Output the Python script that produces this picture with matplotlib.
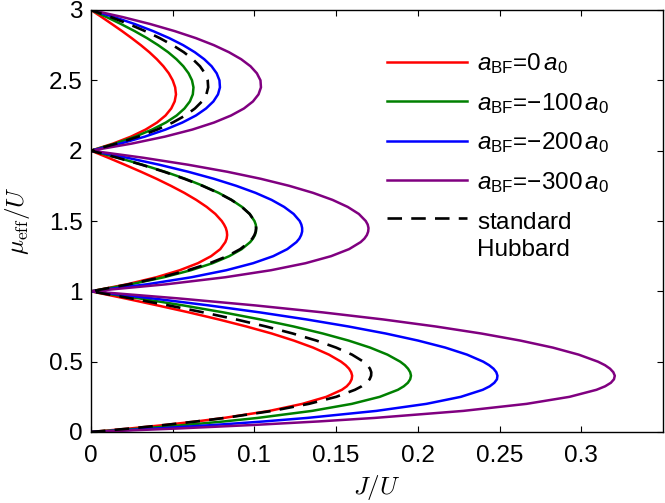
#!/usr/bin/env python3
# -*- coding: utf-8 -*-

import matplotlib
matplotlib.use("Agg")
import matplotlib.pyplot as plt

plt.rcParams['font.family'] = ['Liberation Sans', 'DejaVu Sans']
plt.rcParams['mathtext.fontset'] = 'custom'
plt.rcParams['mathtext.rm'] = 'Liberation Sans'
plt.rcParams['mathtext.it'] = 'Liberation Sans:italic'
plt.rcParams['mathtext.bf'] = 'Liberation Sans:bold'

# effective chemical potential mu_eff/U, one list per Mott lobe
mu_lobe1 = [0.0, 0.025, 0.05, 0.075, 0.1, 0.15, 0.2, 0.25, 0.3, 0.325, 0.35, 0.375, 0.4,
            0.425, 0.45, 0.475, 0.5, 0.55, 0.6, 0.65, 0.7, 0.75, 0.8, 0.85, 0.9, 0.95]
mu_lobe2 = [1.0, 1.05, 1.1, 1.15, 1.2, 1.25, 1.3, 1.35, 1.375, 1.4, 1.425, 1.45, 1.475,
            1.5, 1.55, 1.6, 1.65, 1.7, 1.75, 1.8, 1.85, 1.9, 1.95]
mu_lobe3 = [2.0, 2.05, 2.1, 2.15, 2.2, 2.25, 2.3, 2.35, 2.4, 2.45, 2.5, 2.55, 2.6, 2.65,
            2.7, 2.75, 2.8, 2.85, 2.9, 2.95, 3.0]
mu = mu_lobe1 + mu_lobe2 + mu_lobe3

# critical J/U (lobe 1, lobe 2, lobe 3)
J_a0 = [0, 0.0238, 0.0452, 0.0644, 0.0814, 0.1092, 0.1293, 0.144, 0.1535, 0.1565, 0.1584,
        0.1595, 0.1598, 0.1592, 0.1579, 0.1558, 0.153, 0.1456, 0.1359, 0.1241, 0.1106,
        0.0951, 0.0782, 0.06, 0.0407, 0.0207,
        0, 0.022, 0.04, 0.0543, 0.0654, 0.0735, 0.0791, 0.0822, 0.083, 0.0833, 0.0831,
        0.0825, 0.0814, 0.08, 0.0761, 0.0708, 0.0644, 0.0571, 0.0489, 0.0401, 0.0306,
        0.0207, 0.0105,
        0, 0.0134, 0.0245, 0.0334, 0.0404, 0.0456, 0.0491, 0.0512, 0.052, 0.0515,
        0.05, 0.0476, 0.0443, 0.0403, 0.0357, 0.0305, 0.0249, 0.019, 0.0128, 0.0065, 0]

J_a100 = [0, 0.0307, 0.0577, 0.0813, 0.1019, 0.1352, 0.1596, 0.1767, 0.1878, 0.1914, 0.1939,
          0.1953, 0.1958, 0.1953, 0.194, 0.192, 0.1892, 0.1814, 0.1708, 0.1576, 0.1419,
          0.124, 0.1037, 0.0812, 0.0564, 0.0294,
          0, 0.0243, 0.0446, 0.0611, 0.0744, 0.0846, 0.0922, 0.0974, 0.0991, 0.1003, 0.1009,
          0.1011, 0.1008, 0.1, 0.0971, 0.0924, 0.086, 0.0781, 0.0686, 0.0577, 0.0453,
          0.0315, 0.0164,
          0, 0.0147, 0.0271, 0.0374, 0.0458, 0.0524, 0.0572, 0.0605, 0.0623, 0.0627,
          0.0618, 0.0597, 0.0565, 0.0523, 0.0472, 0.0411, 0.0343, 0.0267, 0.0184, 0.0095, 0]

J_a200 = [0, 0.0401, 0.0752, 0.1057, 0.1322, 0.1746, 0.2052, 0.2263, 0.2397, 0.244, 0.2468,
          0.2484, 0.2487, 0.248, 0.2463, 0.2436, 0.24, 0.2301, 0.2168, 0.2001, 0.1804,
          0.1576, 0.132, 0.1035, 0.072, 0.0375,
          0, 0.0342, 0.0614, 0.0828, 0.0992, 0.1115, 0.1201, 0.1257, 0.1275, 0.1286, 0.1292,
          0.1292, 0.1287, 0.1277, 0.124, 0.1182, 0.1105, 0.1007, 0.0889, 0.0752, 0.0595,
          0.0418, 0.022,
          0, 0.0179, 0.033, 0.0456, 0.0559, 0.0642, 0.0704, 0.0749, 0.0777, 0.0789,
          0.0786, 0.0769, 0.0738, 0.0693, 0.0635, 0.0564, 0.0479, 0.038, 0.0268, 0.0141, 0]

J_a300 = [0, 0.0532, 0.0993, 0.1392, 0.1735, 0.2278, 0.2665, 0.2928, 0.3093, 0.3146, 0.3181,
          0.32, 0.3205, 0.3196, 0.3176, 0.3145, 0.3102, 0.2984, 0.2826, 0.2627, 0.2389,
          0.211, 0.1789, 0.1421, 0.1004, 0.0532,
          0, 0.046, 0.0821, 0.1101, 0.1313, 0.1469, 0.1579, 0.165, 0.1673, 0.1688, 0.1696,
          0.1698, 0.1693, 0.1681, 0.1639, 0.1571, 0.1478, 0.1359, 0.1213, 0.1039, 0.0834,
          0.0594, 0.0318,
          0, 0.0248, 0.0453, 0.062, 0.0753, 0.0857, 0.0936, 0.0991, 0.1025, 0.104,
          0.1037, 0.1015, 0.0976, 0.0919, 0.0844, 0.0752, 0.0642, 0.0512, 0.0363, 0.0193, 0]

J_std = [0, 0.0238, 0.0452, 0.0645, 0.0818, 0.1109, 0.1333, 0.15, 0.1615, 0.1656, 0.1685,
         0.1705, 0.1714, 0.1715, 0.1707, 0.1691, 0.1667, 0.1597, 0.15, 0.1379, 0.1235,
         0.1071, 0.0889, 0.0689, 0.0474, 0.0244,
         0, 0.0232, 0.0429, 0.0593, 0.0727, 0.0833, 0.0913, 0.0968, 0.0987, 0.1, 0.1008,
         0.101, 0.1008, 0.1, 0.0971, 0.0923, 0.0859, 0.0778, 0.0682, 0.0571, 0.0447,
         0.031, 0.0161,
         0, 0.0156, 0.029, 0.0405, 0.05, 0.0577, 0.0636, 0.0679, 0.0706, 0.0717,
         0.0714, 0.0697, 0.0667, 0.0623, 0.0568, 0.05, 0.0421, 0.0331, 0.0231, 0.012, 0]

curves = [J_a0, J_a100, J_a200, J_a300]
colors = ['#ff0000', '#008000', '#0000ff', '#800080']
labels = ['$a_{\\mathrm{BF}}$=0$\\,a_0$',
          '$a_{\\mathrm{BF}}$=\u2212100$\\,a_0$',
          '$a_{\\mathrm{BF}}$=\u2212200$\\,a_0$',
          '$a_{\\mathrm{BF}}$=\u2212300$\\,a_0$']

xticks = [0, 0.05, 0.1, 0.15, 0.2, 0.25, 0.3]
xticklabels = ['0', '0.05', '0.1', '0.15', '0.2', '0.25', '0.3']
yticks = [0, 0.5, 1, 1.5, 2, 2.5, 3]
yticklabels = ['0', '0.5', '1', '1.5', '2', '2.5', '3']

fs = 17.5

fig = plt.figure(figsize=(6.65, 5.03), dpi=100)
axes = fig.add_axes([91 / 665, 71 / 503, 572 / 665, 422 / 503])

for k in range(len(curves)):
    axes.plot(curves[k], mu, color=colors[k], lw=1.8, label=labels[k])
axes.plot(J_std, mu, color='k', lw=1.9, linestyle=(0, (5.5, 3.5)),
          label='standard$_{\\ }$')

axes.set_xlim(0, 0.35)
axes.set_ylim(0, 3)
axes.set_xticks(xticks)
axes.set_xticklabels(xticklabels)
axes.set_yticks(yticks)
axes.set_yticklabels(yticklabels)
axes.tick_params(direction='in', length=4, width=0.8, top=True, right=True, labelsize=fs)
axes.tick_params(axis='x', pad=9)
axes.tick_params(axis='y', pad=6)
for s in axes.spines.values():
    s.set_linewidth(1.0)

axes.set_xlabel(r'$J/U$', fontsize=18, math_fontfamily='cm', labelpad=5)
axes.set_ylabel(r'$\mu_{\rm eff}/U$', fontsize=18, math_fontfamily='cm', labelpad=12)

leg = axes.legend(loc='upper left', bbox_to_anchor=(0.5175, 0.902), frameon=False,
                  fontsize=fs, handlelength=3.3, handletextpad=0.4,
                  labelspacing=0.6, borderpad=0, borderaxespad=0)

# second line of the last legend entry
fig.canvas.draw()
bb = leg.get_texts()[-1].get_window_extent()
fig.text(bb.x0 / fig.bbox.width, (bb.y1 - 30) / fig.bbox.height, 'Hubbard',
         fontsize=fs, va='top', ha='left')

plt.savefig('out.png', dpi=100)
